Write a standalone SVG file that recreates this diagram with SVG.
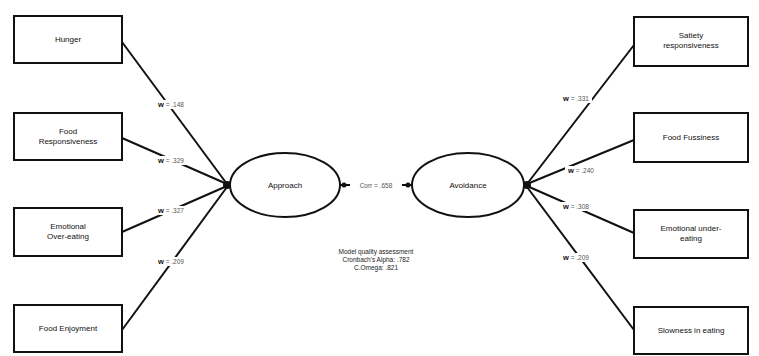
<svg xmlns="http://www.w3.org/2000/svg" width="759" height="356" viewBox="0 0 759 356">
<style>
.box{fill:#fff;stroke:#111;stroke-width:2}
.ell{fill:#fff;stroke:#111;stroke-width:2}
.ln{stroke:#111;stroke-width:2;fill:none}
.t{font-family:"Liberation Sans",Arial,sans-serif;font-size:8px;fill:#111;text-anchor:middle}
.w{font-family:"Liberation Sans",Arial,sans-serif;font-size:6.5px;fill:#555;text-anchor:middle}
.w tspan.b{font-weight:bold;fill:#111;font-size:7.5px}
.m{font-family:"Liberation Sans",Arial,sans-serif;font-size:6.5px;fill:#222;text-anchor:middle}
.bg{fill:#fff}
</style>
<rect width="759" height="356" fill="#fff"/>
<g id="connectors">
<line class="ln" x1="122" y1="42" x2="227" y2="184"/>
<line class="ln" x1="122" y1="138" x2="227" y2="184"/>
<line class="ln" x1="122" y1="232" x2="227" y2="186"/>
<line class="ln" x1="122" y1="330" x2="227" y2="187"/>
<line class="ln" x1="634" y1="45" x2="527" y2="184"/>
<line class="ln" x1="634" y1="140" x2="527" y2="184"/>
<line class="ln" x1="634" y1="233" x2="527" y2="186"/>
<line class="ln" x1="634" y1="330" x2="527" y2="187"/>
<line class="ln" x1="340" y1="185" x2="412" y2="185"/>
<circle cx="227" cy="185" r="4" fill="#111"/>
<circle cx="527" cy="185" r="4" fill="#111"/>
<circle cx="344" cy="185" r="2.5" fill="#111"/>
<circle cx="408" cy="185" r="2.5" fill="#111"/>
<rect class="bg" x="155" y="100" width="32" height="9"/>
<text class="w" x="171" y="107"><tspan class="b">w</tspan> = .148</text>
<rect class="bg" x="155" y="156" width="32" height="9"/>
<text class="w" x="171" y="163"><tspan class="b">w</tspan> = .329</text>
<rect class="bg" x="155" y="206" width="32" height="9"/>
<text class="w" x="171" y="213"><tspan class="b">w</tspan> = .327</text>
<rect class="bg" x="155" y="257" width="32" height="9"/>
<text class="w" x="171" y="264"><tspan class="b">w</tspan> = .209</text>
<rect class="bg" x="560" y="94" width="32" height="9"/>
<text class="w" x="576" y="101"><tspan class="b">w</tspan> = .331</text>
<rect class="bg" x="565" y="166" width="32" height="9"/>
<text class="w" x="581" y="173"><tspan class="b">w</tspan> = .240</text>
<rect class="bg" x="560" y="202" width="32" height="9"/>
<text class="w" x="576" y="209"><tspan class="b">w</tspan> = .308</text>
<rect class="bg" x="560" y="253" width="32" height="9"/>
<text class="w" x="576" y="260"><tspan class="b">w</tspan> = .209</text>
<rect class="bg" x="350" y="181" width="52" height="9"/>
<text class="w" x="376" y="188">Corr = .658</text>
</g>
<g id="hunger"><rect class="box" x="14" y="16" width="108" height="47"/><text class="t" x="68" y="42">Hunger</text></g>
<g id="food-responsiveness"><rect class="box" x="14" y="113" width="108" height="47"/><text class="t" x="68" y="134">Food</text><text class="t" x="68" y="144">Responsiveness</text></g>
<g id="emotional-over-eating"><rect class="box" x="14" y="208" width="108" height="48"/><text class="t" x="68" y="229">Emotional</text><text class="t" x="68" y="239">Over-eating</text></g>
<g id="food-enjoyment"><rect class="box" x="14" y="305" width="108" height="47"/><text class="t" x="68" y="331">Food Enjoyment</text></g>
<g id="satiety"><rect class="box" x="634" y="17" width="114" height="49"/><text class="t" x="691" y="38">Satiety</text><text class="t" x="691" y="48">responsiveness</text></g>
<g id="food-fussiness"><rect class="box" x="634" y="113" width="114" height="49"/><text class="t" x="691" y="140">Food Fussiness</text></g>
<g id="emotional-under-eating"><rect class="box" x="634" y="210" width="114" height="48"/><text class="t" x="691" y="231">Emotional under-</text><text class="t" x="691" y="241">eating</text></g>
<g id="slowness"><rect class="box" x="634" y="307" width="114" height="47"/><text class="t" x="691" y="333">Slowness in eating</text></g>
<g id="approach"><ellipse class="ell" cx="285" cy="185" rx="55" ry="32"/><text class="t" x="285" y="188">Approach</text></g>
<g id="avoidance"><ellipse class="ell" cx="468" cy="185" rx="56" ry="32"/><text class="t" x="468" y="188">Avoidance</text></g>
<g id="model-quality">
<text class="m" x="376" y="254">Model quality assessment</text>
<text class="m" x="376" y="262">Cronbach's Alpha: .782</text>
<text class="m" x="376" y="270">C.Omega: .821</text>
</g>
</svg>
